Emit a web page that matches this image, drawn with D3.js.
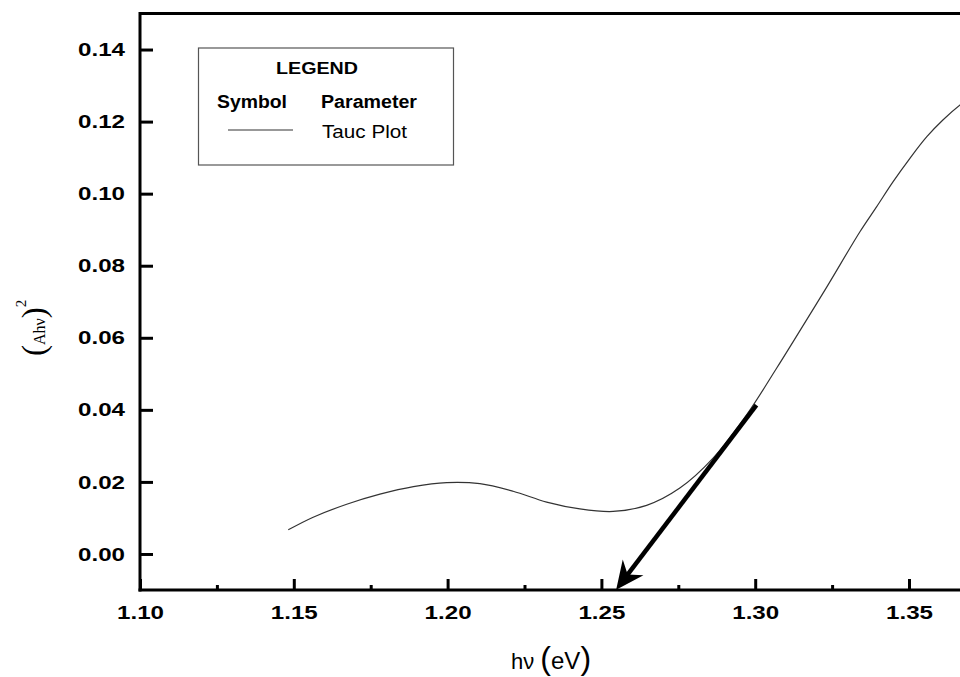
<!DOCTYPE html>
<html>
<head>
<meta charset="utf-8">
<script src="https://d3js.org/d3.v7.min.js"></script>
<style>
  body { margin: 0; background: #fff; }
  svg { display: block; }
</style>
</head>
<body>
<script>
// ---- data ----
var hv   = [1.1482, 1.1563, 1.1672, 1.1780, 1.1889, 1.1997, 1.2105, 1.2213, 1.2322, 1.2430, 1.2538, 1.2647,
            1.2755, 1.2863, 1.2972, 1.3070, 1.3124, 1.3232, 1.3341, 1.3395, 1.3449, 1.3503, 1.3558, 1.3611,
            1.3666, 1.372]
var ahv2 = [0.0067, 0.0102, 0.0138, 0.0166, 0.0187, 0.0198, 0.0195, 0.0174, 0.0144, 0.0125, 0.0118, 0.0135,
            0.0183, 0.0266, 0.0386, 0.0516, 0.0590, 0.0740, 0.0895, 0.0964, 0.1034, 0.1098, 0.1158, 0.1205,
            0.1246, 0.1278]
var xMajor = [1.10, 1.15, 1.20, 1.25, 1.30, 1.35]
var xMinor = [1.125, 1.175, 1.225, 1.275, 1.325, 1.375]
var yMajor = [0.00, 0.02, 0.04, 0.06, 0.08, 0.10, 0.12, 0.14]
var arrowFrom = [1.3004, 0.0413]
var arrowTo   = [1.2548, -0.0099]
var legendTitle = 'LEGEND'
var legendHeads = ['Symbol', 'Parameter']
var seriesName = 'Tauc Plot'

var W = 960, H = 677
var plotLeft = 140, plotTop = 13.5, plotBottom = 590
var pxPerStep = 153.8   // pixels per 0.05 eV

var svg = d3.select('body').append('svg')
  .attr('width', W).attr('height', H)

var x = d3.scaleLinear().domain([1.10, 1.40]).range([plotLeft, plotLeft + 6 * pxPerStep])
var y = d3.scaleLinear().domain([-0.01, 0.15]).range([plotBottom, plotTop])

var tickFont = 'Liberation Sans, Arial, sans-serif'

// y axis (ticks inside)
var gy = svg.append('g').attr('transform', 'translate(' + plotLeft + ',0)')
  .call(d3.axisLeft(y).tickValues(yMajor).tickFormat(d3.format('.2f'))
        .tickSizeInner(-13).tickSizeOuter(0).tickPadding(15))
gy.select('.domain').remove()
gy.selectAll('line').attr('stroke', '#000').attr('stroke-width', 3)
gy.selectAll('text').attr('font-family', tickFont).attr('font-weight', 'bold')
  .attr('font-size', 19).attr('fill', '#000')
  .attr('textLength', 47).attr('lengthAdjust', 'spacingAndGlyphs')

// x axis major
var gx = svg.append('g').attr('transform', 'translate(0,' + plotBottom + ')')
  .call(d3.axisBottom(x).tickValues(xMajor).tickFormat(d3.format('.2f'))
        .tickSizeInner(-11).tickSizeOuter(0).tickPadding(15.5))
gx.select('.domain').remove()
gx.selectAll('line').attr('stroke', '#000').attr('stroke-width', 3)
gx.selectAll('text').attr('font-family', tickFont).attr('font-weight', 'bold')
  .attr('font-size', 19).attr('fill', '#000')
  .attr('textLength', 47).attr('lengthAdjust', 'spacingAndGlyphs')

// x axis minor
var gxm = svg.append('g').attr('transform', 'translate(0,' + plotBottom + ')')
  .call(d3.axisBottom(x).tickValues(xMinor).tickFormat('').tickSizeInner(-5).tickSizeOuter(0))
gxm.select('.domain').remove()
gxm.selectAll('line').attr('stroke', '#000').attr('stroke-width', 3)

// frame lines
svg.append('line').attr('x1', plotLeft).attr('x2', W).attr('y1', plotTop).attr('y2', plotTop)
  .attr('stroke', '#000').attr('stroke-width', 3)
svg.append('line').attr('x1', plotLeft).attr('x2', plotLeft).attr('y1', plotTop - 1.5).attr('y2', plotBottom + 1.5)
  .attr('stroke', '#000').attr('stroke-width', 3)
svg.append('line').attr('x1', plotLeft - 1.5).attr('x2', W).attr('y1', plotBottom).attr('y2', plotBottom)
  .attr('stroke', '#000').attr('stroke-width', 3)

// curve
var pts = hv.map(function(d, i) { return [d, ahv2[i]] })
var line = d3.line().x(function(d) { return x(d[0]) }).y(function(d) { return y(d[1]) })
  .curve(d3.curveCatmullRom.alpha(0.5))
svg.append('path').datum(pts).attr('d', line)
  .attr('fill', 'none').attr('stroke', '#333').attr('stroke-width', 1.2)

// arrow
var ax0 = x(arrowFrom[0]), ay0 = y(arrowFrom[1])
var ax1 = x(arrowTo[0]), ay1 = y(arrowTo[1])
var ang = Math.atan2(ay1 - ay0, ax1 - ax0)
svg.append('line')
  .attr('x1', ax0).attr('y1', ay0)
  .attr('x2', ax1 - 16 * Math.cos(ang)).attr('y2', ay1 - 16 * Math.sin(ang))
  .attr('stroke', '#000').attr('stroke-width', 4.5)
svg.append('path')
  .attr('d', 'M0,0 L-28,-13 L-19,0 L-28,13 Z')
  .attr('transform', 'translate(' + ax1 + ',' + ay1 + ') rotate(' + (ang * 180 / Math.PI) + ')')
  .attr('fill', '#000')

// legend
var lg = svg.append('g')
lg.append('rect').attr('x', 198.5).attr('y', 48).attr('width', 255).attr('height', 117)
  .attr('fill', 'none').attr('stroke', '#555').attr('stroke-width', 1.2)
lg.append('text').attr('x', 317).attr('y', 74).attr('text-anchor', 'middle')
  .attr('font-family', tickFont).attr('font-weight', 'bold').attr('font-size', 17)
  .attr('textLength', 82).attr('lengthAdjust', 'spacingAndGlyphs').text(legendTitle)
lg.append('text').attr('x', 217).attr('y', 108)
  .attr('font-family', tickFont).attr('font-weight', 'bold').attr('font-size', 18)
  .attr('textLength', 70).attr('lengthAdjust', 'spacingAndGlyphs').text(legendHeads[0])
lg.append('text').attr('x', 321).attr('y', 108)
  .attr('font-family', tickFont).attr('font-weight', 'bold').attr('font-size', 18)
  .attr('textLength', 96).attr('lengthAdjust', 'spacingAndGlyphs').text(legendHeads[1])
lg.append('line').attr('x1', 228).attr('x2', 293).attr('y1', 130).attr('y2', 130)
  .attr('stroke', '#333').attr('stroke-width', 1.2)
lg.append('text').attr('x', 322).attr('y', 138)
  .attr('font-family', tickFont).attr('font-size', 17.5)
  .attr('textLength', 85).attr('lengthAdjust', 'spacingAndGlyphs').text(seriesName)

// y label (Ahν)^2
var yl = svg.append('text')
  .attr('transform', 'translate(45,356) rotate(-90)')
  .attr('font-family', 'Liberation Serif, Times New Roman, serif')
yl.append('tspan').attr('font-size', 33).text('(')
yl.append('tspan').attr('font-size', 16).text('Ahν')
yl.append('tspan').attr('font-size', 33).text(')')
yl.append('tspan').attr('font-size', 15).attr('dy', -19).text('2')

// x label hν (eV)
var xl = svg.append('text').attr('x', 511).attr('y', 669)
  .attr('font-family', tickFont)
xl.append('tspan').attr('font-size', 22).text('hν ')
xl.append('tspan').attr('font-size', 32).text('(')
xl.append('tspan').attr('font-size', 24).text('eV')
xl.append('tspan').attr('font-size', 32).text(')')
</script>
</body>
</html>
